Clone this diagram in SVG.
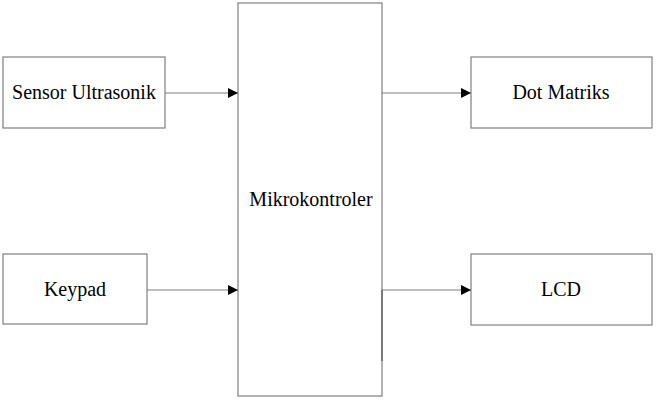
<svg xmlns="http://www.w3.org/2000/svg" width="660" height="400" viewBox="0 0 660 400">
<style>
.box{fill:#fff;stroke:#7f7f7f;stroke-width:1.2}
.lbl{font-family:'Liberation Serif','Times New Roman',Times,serif;font-size:20px;fill:#000;text-anchor:middle}
.con{stroke:#7f7f7f;stroke-width:1.2;fill:none}
</style>
<defs>
<marker id="ah" markerWidth="10" markerHeight="10" refX="10" refY="5" orient="auto" markerUnits="userSpaceOnUse">
<path d="M0,0 L10,5 L0,10 Z" fill="#000"/>
</marker>
</defs>
<rect width="660" height="400" fill="#fff"/>
<g id="mcu"><rect class="box" x="238" y="3" width="144" height="393"/><text class="lbl" x="311" y="206">Mikrokontroler</text></g>
<g id="sensor"><rect class="box" x="3" y="57" width="162" height="71"/><text class="lbl" x="84" y="99">Sensor Ultrasonik</text></g>
<g id="keypad"><rect class="box" x="3" y="254" width="144" height="70"/><text class="lbl" x="75" y="296">Keypad</text></g>
<g id="dot"><rect class="box" x="471" y="57" width="181" height="71"/><text class="lbl" x="561" y="99">Dot Matriks</text></g>
<g id="lcd"><rect class="box" x="471" y="254" width="181" height="71"/><text class="lbl" x="561" y="296">LCD</text></g>
<g id="connectors">
<line class="con" x1="165" y1="93" x2="238" y2="93" marker-end="url(#ah)"/>
<line class="con" x1="147" y1="290" x2="238" y2="290" marker-end="url(#ah)"/>
<line class="con" x1="382" y1="93" x2="471" y2="93" marker-end="url(#ah)"/>
<line class="con" x1="382" y1="290" x2="471" y2="290" marker-end="url(#ah)"/>
<line x1="382" y1="290" x2="382" y2="361" stroke="#555" stroke-width="1.2"/>
</g>
</svg>
